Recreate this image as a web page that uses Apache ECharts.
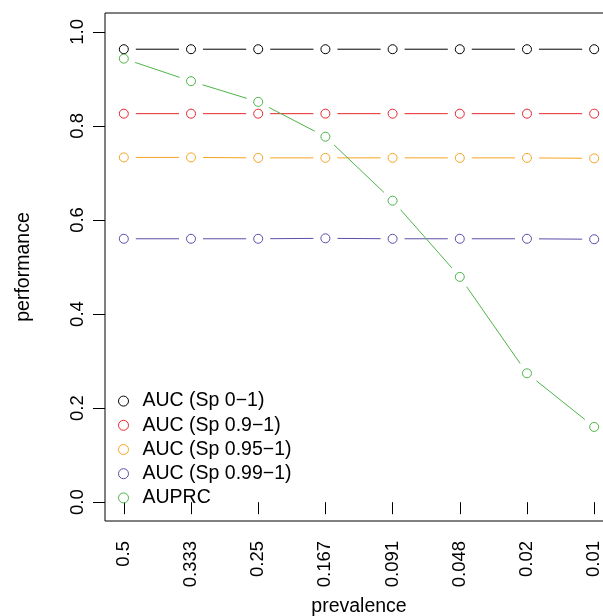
<!DOCTYPE html>
<html>
<head>
<meta charset="utf-8">
<script src="https://cdn.jsdelivr.net/npm/echarts@6/dist/echarts.min.js"></script>
<style>html,body{margin:0;padding:0;background:#fff;}#c{width:603px;height:616px;}</style>
</head>
<body>
<div id="c"></div>
<script>
var prevalenceLabels = ['0.5','0.333','0.25','0.167','0.091','0.048','0.02','0.01'];
var yTicks = [0, 0.2, 0.4, 0.6, 0.8, 1.0];
var seriesNames = ['AUC (Sp 0\u22121)', 'AUC (Sp 0.9\u22121)', 'AUC (Sp 0.95\u22121)', 'AUC (Sp 0.99\u22121)', 'AUPRC'];
var aucAll   = [0.963, 0.963, 0.963, 0.963, 0.963, 0.963, 0.963, 0.963];
var aucSp09  = [0.826, 0.826, 0.826, 0.826, 0.826, 0.826, 0.826, 0.826];
var aucSp095 = [0.733, 0.733, 0.732, 0.732, 0.732, 0.732, 0.732, 0.731];
var aucSp099 = [0.560, 0.560, 0.560, 0.561, 0.560, 0.560, 0.560, 0.559];
var auprc    = [0.943, 0.895, 0.851, 0.777, 0.641, 0.479, 0.274, 0.160];
var colors = ['#000000', '#E8262E', '#F8A423', '#5A4FA8', '#4DB548'];

var allValues = [aucAll, aucSp09, aucSp095, aucSp099, auprc];
var FONT = '"Liberation Sans", Arial, Helvetica, sans-serif';
var GAP = 12;

var series = [];
allValues.forEach(function (vals, k) {
  var segs = [];
  for (var i = 0; i < vals.length - 1; i++) {
    segs.push([i + 1, vals[i], i + 2, vals[i + 1]]);
  }
  series.push({
    type: 'custom',
    name: seriesNames[k] + ' line',
    data: segs,
    encode: { x: [0, 2], y: [1, 3] },
    silent: true,
    renderItem: (function (col) {
      return function (params, api) {
        var p1 = api.coord([api.value(0), api.value(1)]);
        var p2 = api.coord([api.value(2), api.value(3)]);
        var dx = p2[0] - p1[0], dy = p2[1] - p1[1];
        var len = Math.sqrt(dx * dx + dy * dy);
        if (len <= 2 * GAP) return null;
        var ux = dx / len, uy = dy / len;
        return {
          type: 'line',
          shape: { x1: p1[0] + ux * GAP, y1: p1[1] + uy * GAP, x2: p2[0] - ux * GAP, y2: p2[1] - uy * GAP },
          style: { stroke: col, lineWidth: 1 }
        };
      };
    })(colors[k])
  });
  series.push({
    type: 'scatter',
    name: seriesNames[k],
    data: vals.map(function (v, i) { return [i + 1, v]; }),
    symbol: 'circle',
    symbolSize: 9,
    itemStyle: { color: 'rgba(255,255,255,0)', borderColor: colors[k], borderWidth: 1, opacity: 1 },
    emphasis: { disabled: true },
    silent: true
  });
});

var chart = echarts.init(document.getElementById('c'), null, { renderer: 'canvas' });
chart.setOption({
  animation: false,
  backgroundColor: '#ffffff',
  color: colors,
  grid: {
    left: 105, top: 13, width: 508, bottom: 95,
    outerBoundsMode: 'none', containLabel: false,
    show: true, borderColor: '#000', borderWidth: 1, backgroundColor: 'transparent'
  },
  legend: {
    data: seriesNames,
    orient: 'vertical',
    left: 118,
    top: 389,
    padding: 0,
    itemWidth: 10,
    itemHeight: 10,
    itemGap: 0,
    icon: 'circle',
    itemStyle: { color: 'rgba(255,255,255,0)', borderWidth: 1 },
    selectedMode: false,
    textStyle: { fontFamily: FONT, fontSize: 19.5, color: '#000', lineHeight: 24.2, padding: [0, 0, 0, 9] }
  },
  xAxis: {
    type: 'value',
    min: 0.72,
    max: 8.28,
    name: 'prevalence',
    nameLocation: 'middle',
    nameGap: 76,
    nameTextStyle: { fontFamily: FONT, fontSize: 19.5, color: '#000' },
    axisLine: { show: false },
    splitLine: { show: false },
    axisTick: { show: true, length: 12, lineStyle: { color: '#000', width: 1 }, customValues: [1, 2, 3, 4, 5, 6, 7, 8] },
    axisLabel: {
      rotate: 90, margin: 20, fontFamily: FONT, fontSize: 18.5, color: '#000',
      customValues: [1, 2, 3, 4, 5, 6, 7, 8],
      formatter: function (v) { return prevalenceLabels[Math.round(v) - 1]; }
    }
  },
  yAxis: {
    type: 'value',
    min: -0.04,
    max: 1.04,
    name: 'performance',
    nameLocation: 'middle',
    nameRotate: 90,
    nameGap: 71,
    nameTextStyle: { fontFamily: FONT, fontSize: 19.5, color: '#000' },
    axisLine: { show: false },
    splitLine: { show: false },
    axisTick: { show: true, length: 12, lineStyle: { color: '#000', width: 1 }, customValues: yTicks },
    axisLabel: {
      rotate: 90, margin: 18, fontFamily: FONT, fontSize: 18.5, color: '#000',
      customValues: yTicks,
      formatter: function (v) { return v.toFixed(1); }
    }
  },
  series: series
});
</script>
</body>
</html>
